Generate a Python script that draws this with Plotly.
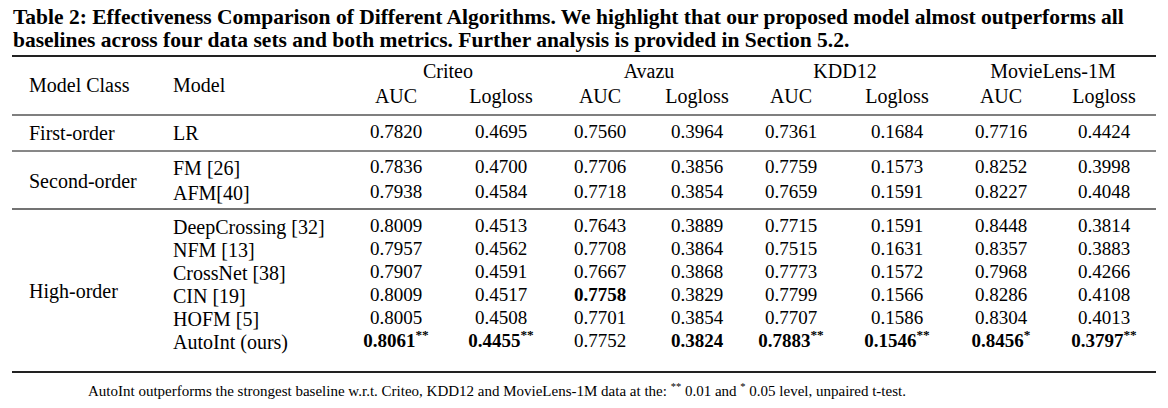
import plotly.graph_objects as go

# ---- table data ----
title_lines = [
    "Table 2: Effectiveness Comparison of Different Algorithms. We highlight that our proposed model almost outperforms all",
    "baselines across four data sets and both metrics. Further analysis is provided in Section 5.2.",
]
footnote = ("AutoInt outperforms the strongest baseline w.r.t. Criteo, KDD12 and MovieLens-1M data at the: "
            "<sup>**</sup> 0.01 and <sup>*</sup> 0.05 level, unpaired t-test.")

datasets = ["Criteo", "Avazu", "KDD12", "MovieLens-1M"]
metrics = ["AUC", "Logloss"]
model_classes = ["First-order", "Second-order", "High-order"]
models = ["LR", "FM [26]", "AFM[40]", "DeepCrossing [32]", "NFM [13]",
          "CrossNet [38]", "CIN [19]", "HOFM [5]", "AutoInt (ours)"]

criteo_auc = [0.7820, 0.7836, 0.7938, 0.8009, 0.7957, 0.7907, 0.8009, 0.8005, 0.8061]
criteo_logloss = [0.4695, 0.4700, 0.4584, 0.4513, 0.4562, 0.4591, 0.4517, 0.4508, 0.4455]
avazu_auc = [0.7560, 0.7706, 0.7718, 0.7643, 0.7708, 0.7667, 0.7758, 0.7701, 0.7752]
avazu_logloss = [0.3964, 0.3856, 0.3854, 0.3889, 0.3864, 0.3868, 0.3829, 0.3854, 0.3824]
kdd12_auc = [0.7361, 0.7759, 0.7659, 0.7715, 0.7515, 0.7773, 0.7799, 0.7707, 0.7883]
kdd12_logloss = [0.1684, 0.1573, 0.1591, 0.1591, 0.1631, 0.1572, 0.1566, 0.1586, 0.1546]
ml1m_auc = [0.7716, 0.8252, 0.8227, 0.8448, 0.8357, 0.7968, 0.8286, 0.8304, 0.8456]
ml1m_logloss = [0.4424, 0.3998, 0.4048, 0.3814, 0.3883, 0.4266, 0.4108, 0.4013, 0.3797]

# best value per column (row index) and significance mark on AutoInt
best_row = [8, 8, 6, 8, 8, 8, 8, 8]
signif = ["**", "**", "", "", "**", "**", "*", "**"]

columns = [criteo_auc, criteo_logloss, avazu_auc, avazu_logloss,
           kdd12_auc, kdd12_logloss, ml1m_auc, ml1m_logloss]

# ---- layout constants (pixels of the 1168x408 page) ----
W, H = 1168, 408
PAD = 8  # browser body margin
FONT = "Liberation Serif"
col_x = [396, 501, 600, 697, 791, 897, 1001, 1104]
set_x = [448, 649, 845, 1053]
class_x, model_x = 28, 172
row_y = [133, 168, 193, 227, 250, 273, 296, 319, 342]
class_y = [133, 181, 291]
rule_left, rule_right = 12, 1156

fig = go.Figure()


def cell_text(vals, ci):
    out = []
    for r, v in enumerate(vals):
        s = f"{v:.4f}"
        if r == 8 and signif[ci]:
            s += f"<sup>{signif[ci]}</sup>"
        if r == best_row[ci]:
            s = f"<b>{s}</b>"
        out.append(s)
    return out


for ci, vals in enumerate(columns):
    fig.add_trace(go.Scatter(
        x=[col_x[ci]] * len(vals), y=row_y,
        mode="text", text=cell_text(vals, ci),
        textposition="middle center",
        textfont=dict(family=FONT, size=19, color="black"),
        hoverinfo="skip", showlegend=False,
    ))

# header: data sets and metrics
fig.add_trace(go.Scatter(
    x=set_x, y=[73] * len(datasets), mode="text", text=datasets,
    textposition="middle center", textfont=dict(family=FONT, size=20, color="black"),
    hoverinfo="skip", showlegend=False,
))
fig.add_trace(go.Scatter(
    x=col_x, y=[98] * len(col_x), mode="text", text=metrics * len(datasets),
    textposition="middle center", textfont=dict(family=FONT, size=20, color="black"),
    hoverinfo="skip", showlegend=False,
))

# left text columns
left_items = [
    (class_x, 85, "Model Class"), (model_x, 85, "Model"),
] + [(class_x, y, c) for y, c in zip(class_y, model_classes)] \
  + [(model_x, y, m) for y, m in zip(row_y, models)]
for x, y, t in left_items:
    fig.add_annotation(x=x, y=y, text=t, xref="x", yref="y", showarrow=False,
                       xanchor="left", yanchor="middle", borderpad=0,
                       font=dict(family=FONT, size=20, color="black"))

# title and footnote
for y, t in zip([17, 40], title_lines):
    fig.add_annotation(x=12, y=y, text=f"<b>{t}</b>", xref="x", yref="y", showarrow=False,
                       xanchor="left", yanchor="middle", borderpad=0,
                       font=dict(family=FONT, size=21.5, color="black"))
fig.add_annotation(x=87, y=390, text=footnote, xref="x", yref="y", showarrow=False,
                   xanchor="left", yanchor="middle", borderpad=0,
                   font=dict(family=FONT, size=15, color="black"))

# rules
rules = [(56, 2, "#222"), (115, 1.5, "#555"), (151, 1, "#111"), (209, 1.5, "#444"), (372, 2, "#222")]
for y, w, c in rules:
    fig.add_shape(type="line", x0=rule_left, x1=rule_right, y0=y, y1=y,
                  xref="x", yref="y", line=dict(color=c, width=w))

fig.update_layout(
    width=W - PAD, height=H - PAD,
    margin=dict(l=0, r=0, t=0, b=0),
    paper_bgcolor="white", plot_bgcolor="white",
    xaxis=dict(range=[PAD, W], visible=False, fixedrange=True),
    yaxis=dict(range=[H, PAD], visible=False, fixedrange=True),
)

fig.write_html("out.html")
